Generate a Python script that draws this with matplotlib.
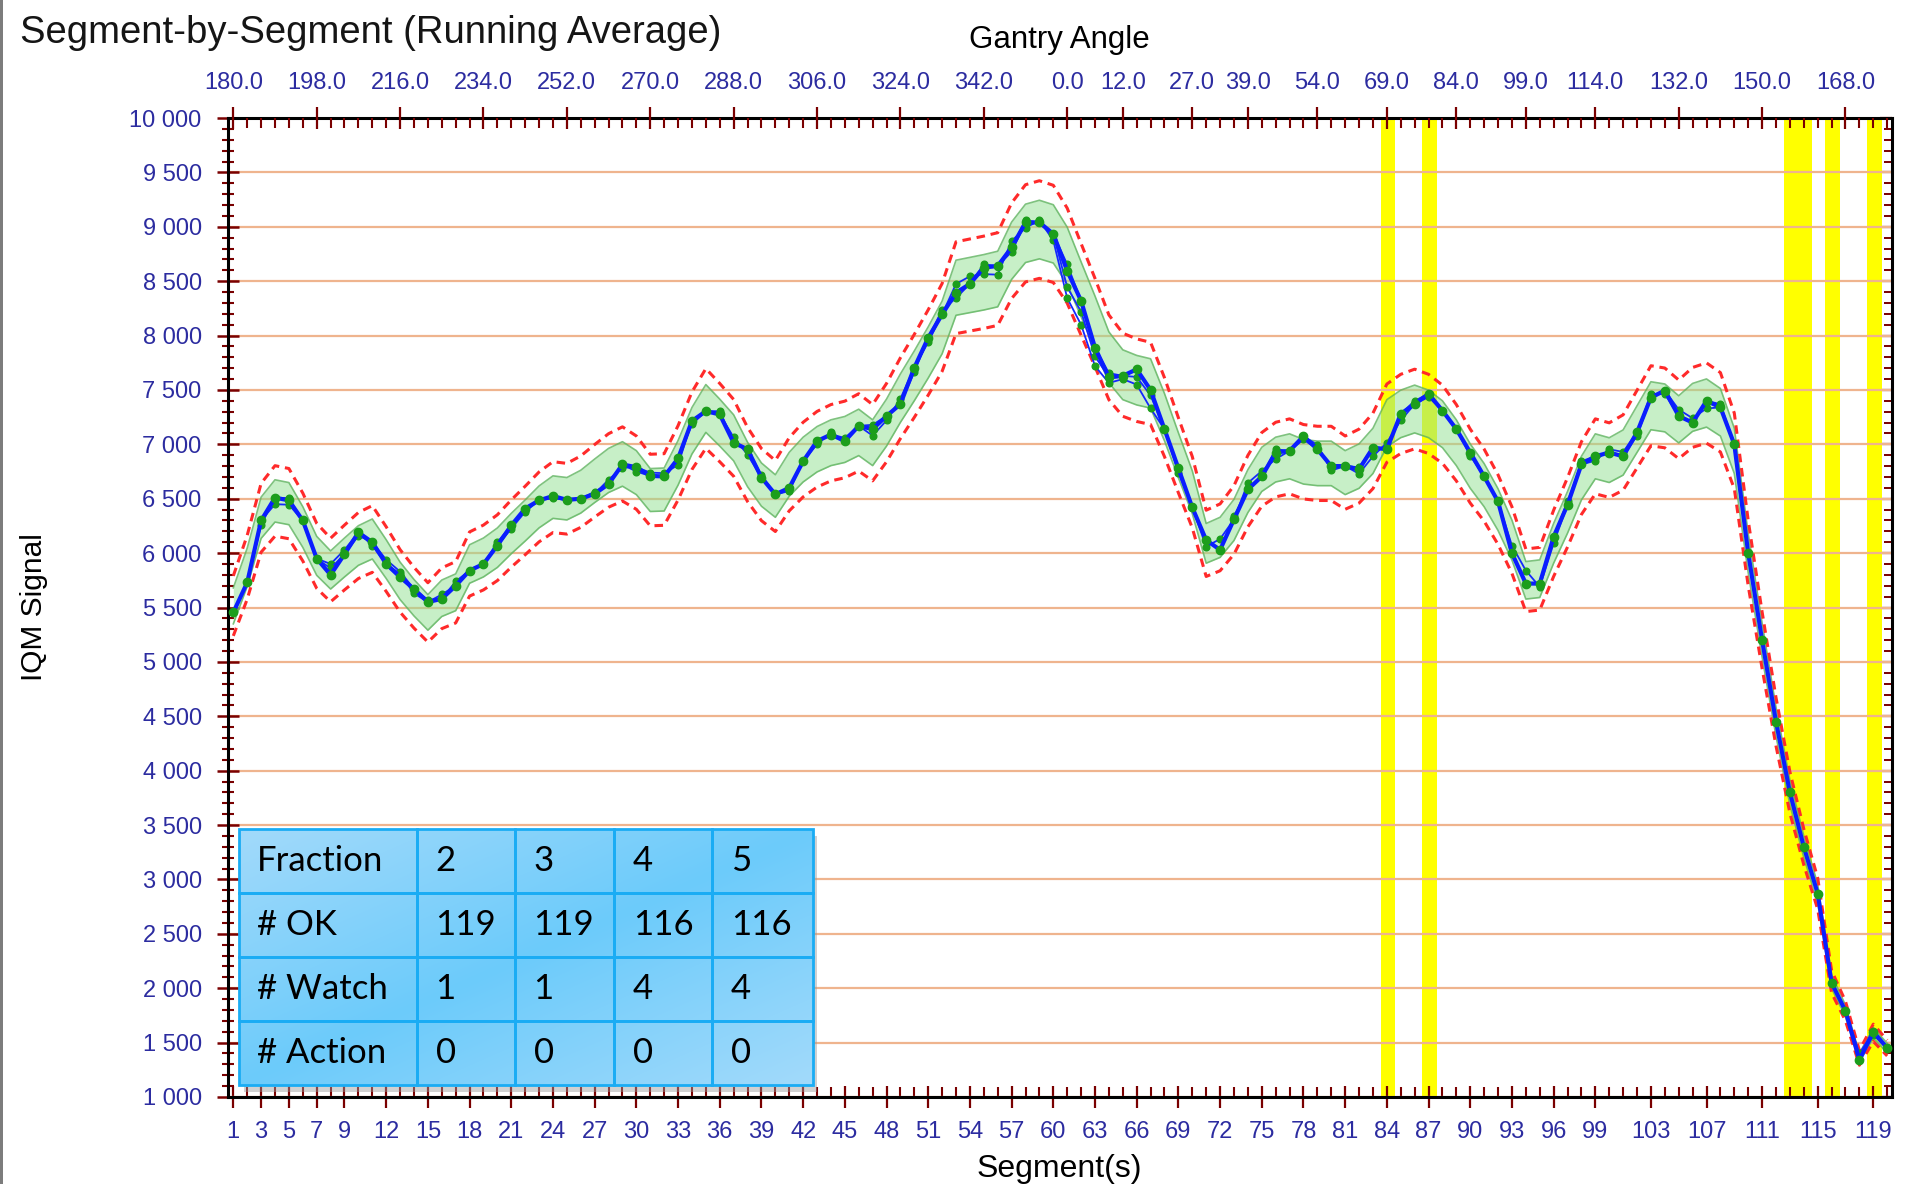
import matplotlib
matplotlib.use("Agg")
import matplotlib.pyplot as plt
from matplotlib.ticker import MultipleLocator, FixedLocator
from matplotlib.patches import Rectangle
import numpy as np

# --- segment data (IQM running average per segment) ---
segments = np.arange(1, 121)

# running average for each fraction
frac5 = [5455, 5730, 6300, 6510, 6485, 6300, 5950, 5800, 5990, 6190,
         6100, 5900, 5780, 5670, 5550, 5580, 5700, 5840, 5900, 6070,
         6255, 6410, 6485, 6525, 6490, 6500, 6545, 6635, 6815, 6790,
         6710, 6705, 6870, 7215, 7305, 7275, 7015, 6955, 6695, 6540,
         6600, 6845, 7030, 7090, 7030, 7170, 7140, 7260, 7370, 7705,
         7980, 8195, 8395, 8475, 8625, 8640, 8810, 9040, 9040, 8935,
         8595, 8320, 7890, 7615, 7630, 7690, 7500, 7140, 6780, 6420,
         6120, 6030, 6310, 6585, 6705, 6925, 6940, 7075, 6955, 6800,
         6800, 6770, 6970, 6955, 7280, 7370, 7465, 7310, 7140, 6925,
         6705, 6475, 6000, 5720, 5720, 6150, 6445, 6815, 6890, 6925,
         6890, 7110, 7430, 7495, 7260, 7200, 7400, 7340, 7000, 6000,
         5200, 4450, 3800, 3300, 2870, 2050, 1790, 1340, 1600, 1450]

frac2 = [5455, 5730, 6300, 6450, 6445, 6300, 5950, 5900, 6030, 6190,
         6100, 5940, 5830, 5670, 5550, 5620, 5700, 5840, 5900, 6070,
         6225, 6380, 6485, 6525, 6490, 6500, 6545, 6675, 6785, 6790,
         6740, 6735, 6810, 7215, 7305, 7275, 7065, 6905, 6695, 6540,
         6600, 6845, 7030, 7090, 7030, 7170, 7080, 7220, 7420, 7705,
         7940, 8195, 8475, 8545, 8565, 8560, 8870, 8990, 9060, 8875,
         8345, 8100, 7720, 7565, 7600, 7550, 7330, 7140, 6780, 6420,
         6060, 6130, 6310, 6645, 6755, 6865, 6940, 7075, 6995, 6760,
         6800, 6730, 6890, 7015, 7220, 7370, 7465, 7310, 7140, 6925,
         6705, 6475, 6070, 5840, 5690, 6090, 6445, 6815, 6850, 6955,
         6930, 7110, 7430, 7495, 7320, 7240, 7330, 7340, 7000, 6000,
         5200, 4450, 3800, 3300, 2870, 2050, 1790, 1400, 1600, 1450]

frac3 = [5455, 5730, 6300, 6510, 6485, 6300, 5950, 5860, 5990, 6160,
         6100, 5900, 5810, 5630, 5550, 5580, 5740, 5840, 5900, 6100,
         6255, 6410, 6485, 6525, 6490, 6500, 6545, 6635, 6815, 6750,
         6710, 6705, 6870, 7215, 7305, 7305, 7015, 6955, 6695, 6540,
         6600, 6845, 7000, 7110, 7030, 7170, 7180, 7260, 7370, 7705,
         7980, 8235, 8345, 8475, 8625, 8640, 8770, 9040, 9040, 8935,
         8445, 8220, 7810, 7615, 7630, 7620, 7450, 7140, 6780, 6420,
         6120, 6030, 6310, 6585, 6705, 6955, 6940, 7075, 6955, 6800,
         6800, 6790, 6970, 6955, 7280, 7370, 7435, 7310, 7140, 6925,
         6705, 6475, 6000, 5720, 5720, 6150, 6445, 6845, 6890, 6925,
         6890, 7110, 7460, 7465, 7260, 7200, 7400, 7340, 7000, 6000,
         5200, 4450, 3800, 3300, 2870, 2050, 1790, 1340, 1600, 1450]

frac4 = [5455, 5730, 6260, 6510, 6505, 6300, 5950, 5800, 5990, 6190,
         6070, 5900, 5780, 5670, 5570, 5580, 5700, 5840, 5900, 6070,
         6255, 6410, 6485, 6505, 6490, 6500, 6565, 6635, 6815, 6790,
         6710, 6705, 6870, 7185, 7305, 7275, 7015, 6955, 6715, 6540,
         6570, 6845, 7030, 7090, 7060, 7170, 7140, 7260, 7370, 7665,
         7980, 8195, 8395, 8475, 8655, 8640, 8810, 9060, 9040, 8935,
         8655, 8320, 7890, 7655, 7630, 7690, 7500, 7140, 6740, 6420,
         6120, 6030, 6340, 6585, 6705, 6925, 6940, 7045, 6955, 6800,
         6800, 6770, 6970, 6955, 7280, 7400, 7465, 7310, 7140, 6895,
         6705, 6475, 6000, 5720, 5720, 6150, 6475, 6815, 6890, 6925,
         6890, 7080, 7430, 7495, 7260, 7200, 7400, 7370, 7000, 6000,
         5200, 4450, 3800, 3300, 2870, 2050, 1790, 1340, 1570, 1450]

# baseline (reference fraction) the tolerances are built around
baseline = [5515, 5870, 6325, 6480, 6455, 6240, 5975, 5845, 5960, 6070,
            6130, 5945, 5745, 5590, 5455, 5585, 5640, 5900, 5960, 6050,
            6180, 6300, 6425, 6515, 6500, 6565, 6665, 6760, 6820, 6740,
            6580, 6585, 6830, 7125, 7330, 7200, 7060, 6815, 6630, 6525,
            6725, 6860, 6955, 7015, 7045, 7110, 7015, 7200, 7425, 7630,
            7845, 8075, 8440, 8465, 8490, 8520, 8780, 8940, 8975, 8935,
            8735, 8425, 8120, 7800, 7640, 7590, 7560, 7250, 6900, 6560,
            6090, 6145, 6305, 6570, 6770, 6860, 6890, 6840, 6825, 6825,
            6740, 6800, 6940, 7195, 7280, 7325, 7280, 7185, 7015, 6800,
            6625, 6400, 6120, 5750, 5765, 6090, 6375, 6690, 6890, 6855,
            6925, 7140, 7355, 7335, 7230, 7340, 7380, 7295, 6940, 6000,
            5200, 4450, 3800, 3300, 2870, 2060, 1790, 1360, 1590, 1450]

watch_tol = 0.03    # green band
action_tol = 0.05   # red dashed limits

# segments flagged "watch"
watch_segments = [84, 87, 113, 114, 116, 119]

bottom_ticks = [1, 3, 5, 7, 9, 12, 15, 18, 21, 24, 27, 30, 33, 36, 39, 42, 45, 48,
                51, 54, 57, 60, 63, 66, 69, 72, 75, 78, 81, 84, 87, 90, 93, 96, 99,
                103, 107, 111, 115, 119]
gantry_ticks = [1, 7, 13, 19, 25, 31, 37, 43, 49, 55, 61, 65, 70, 74, 79, 84, 89,
                94, 99, 105, 111, 117]
gantry_labels = ["180.0", "198.0", "216.0", "234.0", "252.0", "270.0", "288.0",
                 "306.0", "324.0", "342.0", "0.0", "12.0", "27.0", "39.0", "54.0",
                 "69.0", "84.0", "99.0", "114.0", "132.0", "150.0", "168.0"]

# summary table
table_header = ["Fraction", "2", "3", "4", "5"]
ok_counts = [119, 119, 116, 116]
watch_counts = [1, 1, 4, 4]
action_counts = [0, 0, 0, 0]

# --- style ---
tick_red = "#7a0000"
label_blue = "#2c2ca0"
grid_col = "#efb48e"
tick_fs = 17
plt.rcParams["font.family"] = ["Liberation Sans", "DejaVu Sans"]

fig = plt.figure(figsize=(19.05, 11.84), dpi=100)
ax = fig.add_axes([0.1197, 0.0735, 0.8735, 0.8268])

base = np.array(baseline, dtype=float)

for s in watch_segments:
    ax.axvspan(s - 0.45, s + 0.6, color="#ffff00", lw=0, zorder=0.5)

ax.fill_between(segments, base * (1 - watch_tol), base * (1 + watch_tol),
                color="#90e090", alpha=0.5, lw=0, zorder=2)
ax.plot(segments, base * (1 + watch_tol), color="#5fb35f", lw=1.2, alpha=0.8, zorder=2.1)
ax.plot(segments, base * (1 - watch_tol), color="#5fb35f", lw=1.2, alpha=0.8, zorder=2.1)

dash = (0, (2.8, 1.9))
ax.plot(segments, base * (1 + action_tol), color="#ff2a2a", lw=2.2, ls=dash, zorder=3)
ax.plot(segments, base * (1 - action_tol), color="#ff2a2a", lw=2.2, ls=dash, zorder=3)

for vals in [frac2, frac3, frac4]:
    ax.plot(segments, vals, color="#1428ff", lw=1.3, marker="o", ms=4.8,
            mfc="#1c9e1c", mec="#1c9e1c", zorder=4)
ax.plot(segments, frac5, color="#0a1eff", lw=3, marker="o", ms=6,
        mfc="#1c9e1c", mec="#1c9e1c", zorder=5)

# axes limits / ticks
ax.set_xlim(0.62, 120.35)
ax.set_ylim(1000, 10000)

ax.xaxis.set_major_locator(FixedLocator(bottom_ticks))
ax.xaxis.set_minor_locator(MultipleLocator(1))
ax.yaxis.set_major_locator(MultipleLocator(500))
ax.yaxis.set_minor_locator(MultipleLocator(100))
ax.yaxis.set_major_formatter(lambda v, p: f"{int(v):,}".replace(",", " "))

ax.tick_params(axis="x", which="major", direction="inout", length=16, width=1.6,
               color=tick_red, labelsize=tick_fs, labelcolor=label_blue, pad=9, top=False)
ax.tick_params(axis="x", which="minor", direction="in", length=7, width=1.5,
               color=tick_red, top=False)
ax.tick_params(axis="y", which="major", direction="inout", length=16, width=1.8,
               color=tick_red, labelsize=tick_fs, labelcolor=label_blue, pad=11, right=False)
ax.tick_params(axis="y", which="minor", direction="inout", length=8.5, width=1.5,
               color=tick_red, right=False)

ax.yaxis.grid(True, which="major", color=grid_col, lw=1.6, zorder=1)
ax.set_axisbelow(True)
for sp in ax.spines.values():
    sp.set_color("black")
    sp.set_linewidth(2.2)

# gantry angle axis on top
ax_top = ax.twiny()
ax_top.set_xlim(ax.get_xlim())
ax_top.xaxis.set_major_locator(FixedLocator(gantry_ticks))
ax_top.set_xticklabels(gantry_labels)
ax_top.xaxis.set_minor_locator(MultipleLocator(1))
ax_top.tick_params(axis="x", which="major", direction="inout", length=16, width=1.6,
                   color=tick_red, labelsize=tick_fs, labelcolor=label_blue, pad=9.5)
ax_top.tick_params(axis="x", which="minor", direction="in", length=7.5, width=1.5,
                   color=tick_red)
for sp in ax_top.spines.values():
    sp.set_visible(False)

# inward ticks on the right
ax_r = ax.secondary_yaxis("right")
ax_r.yaxis.set_major_locator(MultipleLocator(500))
ax_r.yaxis.set_minor_locator(MultipleLocator(100))
ax_r.tick_params(axis="y", which="major", direction="in", length=9, width=1.6,
                 color=tick_red, labelright=False)
ax_r.tick_params(axis="y", which="minor", direction="in", length=6, width=1.4,
                 color=tick_red)
ax_r.spines["right"].set_visible(False)

# --- summary table ---
tx0, tx1 = 0.0066, 0.351
ty0, ty1 = 0.0123, 0.2737
col_w = [0.311, 0.171, 0.173, 0.171, 0.175]
rows = [table_header,
        ["# OK"] + [str(v) for v in ok_counts],
        ["# Watch"] + [str(v) for v in watch_counts],
        ["# Action"] + [str(v) for v in action_counts]]

# diagonal light-blue shading
gy, gx = np.mgrid[0:1:60j, 0:1:120j]
t = np.abs((gx + gy) / 2 - 0.5) * 2
light = np.array([162, 218, 250]) / 255
dark = np.array([108, 203, 251]) / 255
grad = dark + (light - dark) * t[..., None]
ax.add_patch(Rectangle((tx0 + 0.003, ty0 - 0.007), tx1 - tx0, ty1 - ty0,
                       transform=ax.transAxes, color="#9a9a9a", alpha=0.45, lw=0, zorder=8))
ax.imshow(grad, extent=[tx0, tx1, ty0, ty1], transform=ax.transAxes,
          aspect="auto", zorder=9, interpolation="bilinear")

row_h = (ty1 - ty0) / len(rows)
for r, row in enumerate(rows):
    y = ty1 - (r + 1) * row_h
    x = tx0
    for c, txt in enumerate(row):
        w = (tx1 - tx0) * col_w[c]
        ax.add_patch(Rectangle((x, y), w, row_h, transform=ax.transAxes, fill=False,
                               edgecolor="#1aacf4", lw=2, zorder=11))
        ax.text(x + 0.011, y + row_h / 2, txt, transform=ax.transAxes, ha="left",
                va="center", fontsize=25, family=["Lato", "DejaVu Sans"], color="black",
                zorder=12)
        x += w

ax.set_xlim(0.62, 120.35)
ax.set_ylim(1000, 10000)

# --- titles ---
fig.text(0.0105, 0.972, "Segment-by-Segment (Running Average)", fontsize=27.5,
         ha="left", va="center", color="#151515")
fig.text(0.556, 0.966, "Gantry Angle", fontsize=22.5, ha="center", va="center")
fig.text(0.556, 0.013, "Segment(s)", fontsize=23, ha="center", va="center")
fig.text(0.018, 0.487, "IQM Signal", fontsize=21.5, ha="center", va="center", rotation=90)

fig.patches.append(Rectangle((0, 0), 3 / 1905, 1, transform=fig.transFigure,
                             color="#7c7c7c", lw=0))

fig.savefig("out.png", dpi=100)
